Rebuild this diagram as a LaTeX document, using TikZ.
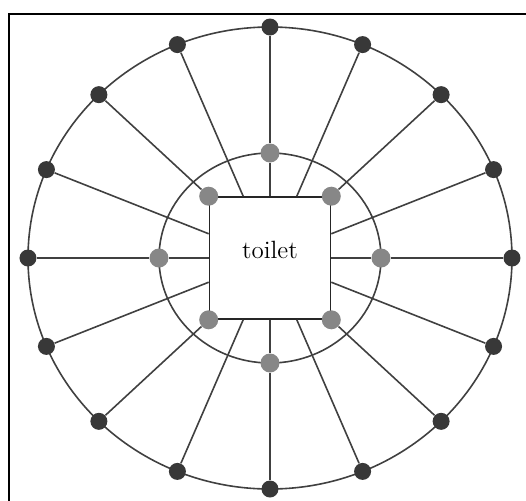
\documentclass[tikz,border=0pt]{standalone}
\usepackage{tikz}
\usetikzlibrary{positioning}

\begin{document}
\begin{tikzpicture}[x=0.5pt,y=0.5pt,
  wire/.style={draw=black!75,line width=0.8pt},
  dark/.style={circle,fill=black!78,inner sep=0pt,minimum size=8.5pt},
  grey/.style={circle,fill=black!47,inner sep=0pt,minimum size=9.5pt}]
\useasboundingbox (-270,-242) rectangle (256,258);
\draw[line width=1pt] (-261,-260) -- (-261,244) -- (270,244);
\node (toilet) [draw=black!85,line width=0.8pt,minimum width=60.5pt,minimum height=61pt,
  text height=8pt,text depth=8pt,font=\fontsize{12.5}{14}\selectfont] at (0,0) {toilet};
\draw[wire] (0,0) ellipse [x radius=242,y radius=231];
\draw[wire] (0,0) ellipse [x radius=111,y radius=105];
% outer ring
\foreach \i in {0,...,15}
  \node (o\i) [dark] at ({242*cos(22.5*\i)},{231*sin(22.5*\i)}) {};
% inner ring and corners
\foreach \i in {0,4,8,12}
  \node (g\i) [grey] at ({111*cos(22.5*\i)},{105*sin(22.5*\i)}) {};
\foreach \i/\c in {2/north east,6/north west,10/south west,14/south east}
  \node (k\i) [grey] at (toilet.\c) {};
% spokes
\foreach \i in {1,3,5,7,9,11,13,15}
  \draw[wire] (o\i) -- (toilet);
\foreach \i in {0,4,8,12}
  \draw[wire] (o\i) -- (g\i) -- (toilet);
\foreach \i in {2,6,10,14}
  \draw[wire] (o\i) -- (k\i);
\end{tikzpicture}
\end{document}
